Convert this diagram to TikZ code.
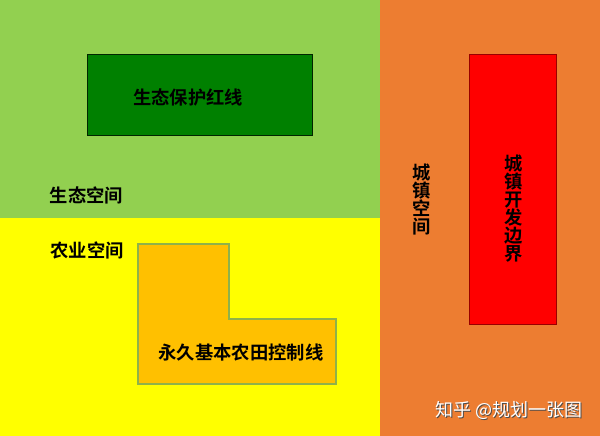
\documentclass[tikz,border=0pt]{standalone}
\usepackage{fontspec}
\newfontfamily\cjk{Noto Sans CJK SC}
\newfontfamily\cjkb{Noto Sans CJK SC Bold}
\definecolor{ecoG}{HTML}{92D050}
\definecolor{agriY}{HTML}{FFFF00}
\definecolor{townO}{HTML}{ED7D31}
\definecolor{redlineG}{HTML}{008000}
\definecolor{farmO}{HTML}{FFC000}
\definecolor{farmB}{HTML}{8FB24A}
\definecolor{devR}{HTML}{FF0000}
\tikzset{
  lbl/.style={font=\cjkb\fontsize{18.3}{18}\selectfont, text=black, inner sep=0pt},
  vlbl/.style={lbl, align=center},
}
\begin{document}
\begin{tikzpicture}[x=1pt,y=-1pt]
\useasboundingbox (0,0) rectangle (600,436);
% zones
\fill[ecoG] (0,0) rectangle (380,217.5);
\fill[agriY] (0,217.5) rectangle (380,436);
\fill[townO] (380,0) rectangle (600,436);
% ecological red line
\node[draw=black!85!green, line width=1.8pt, fill=redlineG, minimum width=225pt, minimum height=81pt, inner sep=0pt] (rl) at (200,95) {};
\node[lbl] (rlt) at (188,97) {生态保护红线};
% farmland L-shape
\draw[draw=farmB, line width=1.3pt, fill=farmO] (138,244) -- (229,244) -- (229,319) -- (336,319) -- (336,384) -- (138,384) -- cycle;
\coordinate (farm) at (241,353);
\node[lbl] (ft) at (farm) {永久基本农田控制线};
% dev boundary
\node[draw=black!40!red, line width=0.8pt, fill=devR, minimum width=87pt, minimum height=270pt, inner sep=0pt] (dev) at (512.5,189) {};
\node[vlbl] (devt) at (514,209) {城\\镇\\开\\发\\边\\界};
% zone labels
\node[lbl] (eco) at (86.5,195) {生态空间};
\node[lbl] (agr) at (87,250) {农业空间};
\node[vlbl] (town) at (422,199) {城\\镇\\空\\间};
% watermark
\node[font=\cjk\fontsize{18}{18}\selectfont, text=black!70, inner sep=0pt] at (510,411) {知乎 @规划一张图};
\node[font=\cjk\fontsize{18}{18}\selectfont, text=white, inner sep=0pt] (wm) at (509,410) {知乎 @规划一张图};
\end{tikzpicture}
\end{document}
